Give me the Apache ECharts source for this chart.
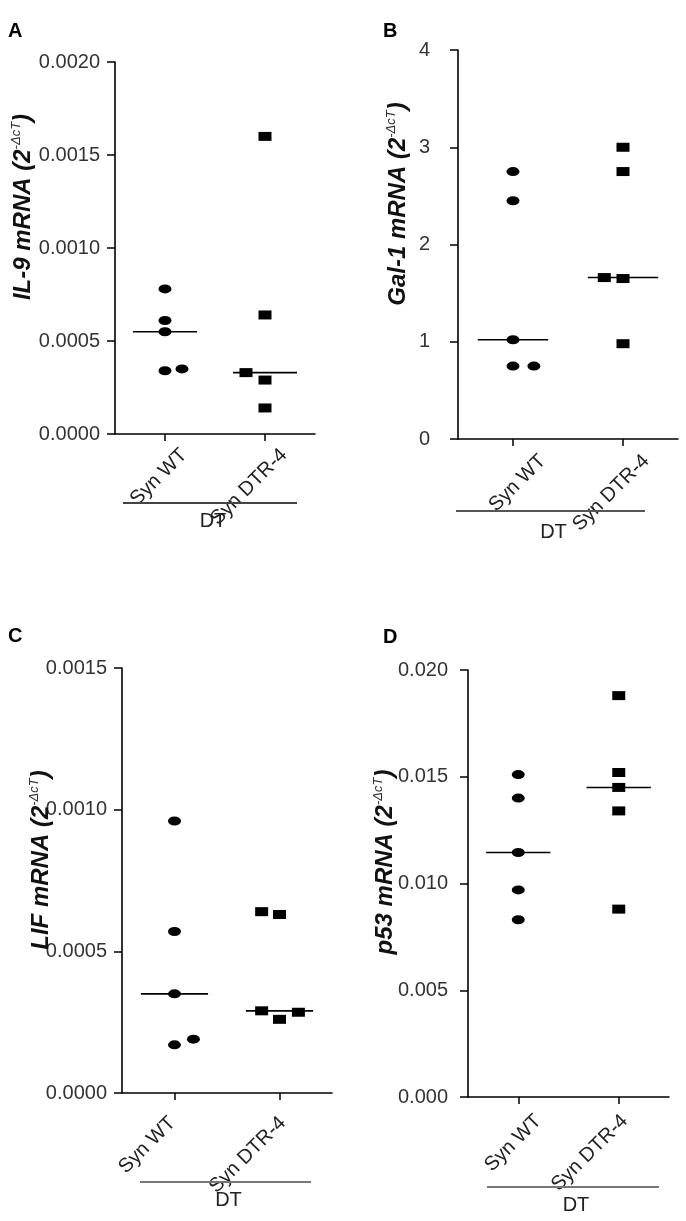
<!DOCTYPE html>
<html>
<head>
<meta charset="utf-8">
<script src="https://cdn.jsdelivr.net/npm/echarts@6/dist/echarts.min.js"></script>
<style>
html,body{margin:0;padding:0;background:#fff;}
#chart{width:686px;height:1221px;}
</style>
</head>
<body>
<div id="chart"></div>
<script>
// ---------- data ----------
const groups = ['Syn WT', 'Syn DTR-4'];

const il9WT     = [0.00078, 0.00061, 0.00055, 0.00034, 0.00035];
const il9WTJit  = [0, 0, 0, 0, 0.17];
const il9DTR    = [0.00160, 0.00064, 0.00033, 0.00029, 0.00014];
const il9DTRJit = [0, 0, -0.19, 0, 0];

const gal1WT     = [2.75, 2.45, 1.02, 0.75, 0.75];
const gal1WTJit  = [0, 0, 0, 0, 0.19];
const gal1DTR    = [3.00, 2.75, 1.66, 1.65, 0.98];
const gal1DTRJit = [0, 0, -0.17, 0, 0];

const lifWT     = [0.00096, 0.00057, 0.00035, 0.00017, 0.00019];
const lifWTJit  = [0, 0, 0, 0, 0.18];
const lifDTR    = [0.00064, 0.00063, 0.00029, 0.00026, 0.000285];
const lifDTRJit = [-0.17, 0, -0.17, 0, 0.18];

const p53WT     = [0.0151, 0.0140, 0.01145, 0.0097, 0.0083];
const p53WTJit  = [0, 0, 0, 0, 0];
const p53DTR    = [0.0188, 0.0152, 0.0145, 0.0134, 0.0088];
const p53DTRJit = [0, 0, 0, 0, 0];

const il9Ticks  = [0, 0.0005, 0.0010, 0.0015, 0.0020];
const gal1Ticks = [0, 1, 2, 3, 4];
const lifTicks  = [0, 0.0005, 0.0010, 0.0015];
const p53Ticks  = [0, 0.005, 0.010, 0.015, 0.020];

const titles = [
  ['IL-9 mRNA (2', '-ΔcT', ')'],
  ['Gal-1 mRNA (2', '-ΔcT', ')'],
  ['LIF mRNA (2', '-ΔcT', ')'],
  ['p53 mRNA (2', '-ΔcT', ')']
];
const letters = ['A', 'B', 'C', 'D'];
const groupLabel = 'DT';

// ---------- layout ----------
const FONT = 'Liberation Sans, Arial, sans-serif';
const panels = [
  { d: [il9WT, il9WTJit, il9DTR, il9DTRJit], ticks: il9Ticks, dec: 4,
    grid: {left:115, top:62, width:200, height:372}, lblOff:[0.19,0.19], lblMargin:18, yMargin:15,
    title:{x:23, y:207}, letter:{x:8, y:21}, dt:{x1:123, x2:297, y:503, ty:521}, dtColor:'#444' },
  { d: [gal1WT, gal1WTJit, gal1DTR, gal1DTRJit], ticks: gal1Ticks, dec: 0,
    grid: {left:458, top:50, width:220, height:389}, lblOff:[0.27,0.21], lblMargin:19, yMargin:28,
    title:{x:398, y:204}, letter:{x:383, y:21}, dt:{x1:456, x2:645, y:511, ty:532}, dtColor:'#555' },
  { d: [lifWT, lifWTJit, lifDTR, lifDTRJit], ticks: lifTicks, dec: 4,
    grid: {left:122, top:668, width:210, height:425}, lblOff:[-0.02,0.03], lblMargin:27, yMargin:15,
    title:{x:41, y:860}, letter:{x:8, y:626}, dt:{x1:140, x2:311, y:1182, ty:1200}, dtColor:'#777' },
  { d: [p53WT, p53WTJit, p53DTR, p53DTRJit], ticks: p53Ticks, dec: 3,
    grid: {left:468, top:670, width:201, height:427}, lblOff:[0.20,0.06], lblMargin:21, yMargin:20,
    title:{x:385, y:862}, letter:{x:383, y:627}, dt:{x1:487, x2:659, y:1187, ty:1205}, dtColor:'#777' }
];

function median(a){
  const s = a.slice().sort((p,q)=>p-q);
  const n = s.length;
  return n % 2 ? s[(n-1)/2] : (s[n/2-1]+s[n/2])/2;
}

const grids = [], xAxes = [], yAxes = [], series = [], graphics = [];
const HALF = 0.32;

panels.forEach((p, i) => {
  grids.push(Object.assign({containLabel:false}, p.grid));
  xAxes.push({
    type:'value', gridIndex:i, min:-0.5, max:1.5,
    axisLine:{show:true, onZero:false, lineStyle:{color:'#000', width:1.6}},
    axisTick:{show:true, customValues:[0,1], length:7, lineStyle:{color:'#000', width:1.5}},
    axisLabel:{show:true, customValues:[0+p.lblOff[0], 1+p.lblOff[1]], rotate:45, margin:p.lblMargin,
      formatter:(v)=>groups[v < 0.5 ? 0 : 1], color:'#222', fontSize:20, fontFamily:FONT},
    splitLine:{show:false}
  });
  const t = p.ticks;
  yAxes.push({
    type:'value', gridIndex:i, min:t[0], max:t[t.length-1], interval:t[1]-t[0],
    axisLine:{show:true, onZero:false, lineStyle:{color:'#000', width:1.6}},
    axisTick:{show:true, length:8, lineStyle:{color:'#000', width:1.5}},
    axisLabel:{color:'#333', fontSize:20, fontFamily:FONT, margin:p.yMargin,
      formatter:(v)=>Number(v).toFixed(p.dec)},
    splitLine:{show:false}
  });
  const [wt, wtJ, dtr, dtrJ] = p.d;
  series.push({
    type:'scatter', xAxisIndex:i, yAxisIndex:i, symbol:'circle', symbolSize:[13,9],
    itemStyle:{color:'#000', opacity:1}, data: wt.map((v,k)=>[0+wtJ[k], v]), z:3
  });
  series.push({
    type:'scatter', xAxisIndex:i, yAxisIndex:i, symbol:'rect', symbolSize:[13,9],
    itemStyle:{color:'#000', opacity:1}, data: dtr.map((v,k)=>[1+dtrJ[k], v]), z:3
  });
  const mW = median(wt), mD = median(dtr);
  series.push({
    type:'line', xAxisIndex:i, yAxisIndex:i, symbol:'none', silent:true,
    lineStyle:{color:'#000', width:1.6}, data:[[0-HALF, mW],[0+HALF, mW]], z:2
  });
  series.push({
    type:'line', xAxisIndex:i, yAxisIndex:i, symbol:'none', silent:true,
    lineStyle:{color:'#000', width:1.6}, data:[[1-HALF, mD],[1+HALF, mD]], z:2
  });

  // y-axis title
  graphics.push({
    type:'text', x:p.title.x, y:p.title.y, rotation:Math.PI/2, z:10,
    style:{
      text:'{t|'+titles[i][0]+'}{s|'+titles[i][1]+'}{t|'+titles[i][2]+'}',
      align:'center', verticalAlign:'middle',
      rich:{
        t:{fontFamily:FONT, fontSize:24, fontWeight:'bold', fontStyle:'italic', fill:'#111', lineHeight:27},
        s:{fontFamily:FONT, fontSize:13, fontStyle:'italic', fill:'#333', lineHeight:14, verticalAlign:'top'}
      }
    }
  });
  // panel letter
  graphics.push({
    type:'text', x:p.letter.x, y:p.letter.y, z:10,
    style:{text:letters[i], fontFamily:FONT, fontSize:20, fontWeight:'bold', fill:'#000', align:'left', verticalAlign:'top'}
  });
  // DT group bar
  graphics.push({
    type:'line', z:1, shape:{x1:p.dt.x1, y1:p.dt.y, x2:p.dt.x2, y2:p.dt.y},
    style:{stroke:p.dtColor, lineWidth:2}
  });
  graphics.push({
    type:'text', x:(p.dt.x1+p.dt.x2)/2 + 3, y:p.dt.ty, z:1,
    style:{text:groupLabel, fontFamily:FONT, fontSize:20, fill:'#222', align:'center', verticalAlign:'middle'}
  });
});

const chart = echarts.init(document.getElementById('chart'), null, {renderer:'canvas'});
chart.setOption({
  backgroundColor:'#fff',
  animation:false,
  grid:grids, xAxis:xAxes, yAxis:yAxes, series:series, graphic:graphics
});
</script>
</body>
</html>
